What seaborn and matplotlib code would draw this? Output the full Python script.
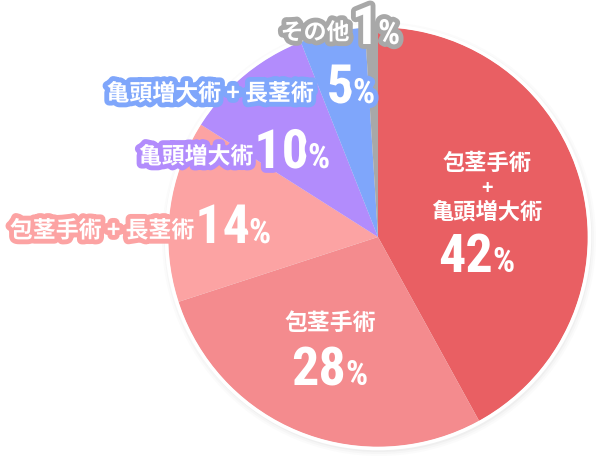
import matplotlib
matplotlib.use('Agg')
import matplotlib.pyplot as plt
import matplotlib.patheffects as pe
from matplotlib.patches import Circle
import seaborn as sns

# data
labels = ['包茎手術\n+\n亀頭増大術', '包茎手術', '包茎手術 + 長茎術', '亀頭増大術', '亀頭増大術 + 長茎術', 'その他']
shares = [42, 28, 14, 10, 5, 1]
colors = ['#e95f63', '#f48b8e', '#fca3a3', '#b28cfc', '#7fa6fb', '#a8a8a8']

sns.set_theme(style='white')
jp = ['Noto Sans CJK JP', 'DejaVu Sans']
num = ['Roboto Condensed', 'Liberation Sans Narrow', 'DejaVu Sans']

H = 469
fig = plt.figure(figsize=(6.12, 4.69), dpi=100)
ax = fig.add_axes([0, 0, 1, 1])

cx, cy, r = 378, H - 237, 210

# soft shadow behind the pie
for k, a in [(7, 0.03), (5, 0.04), (3, 0.06)]:
    ax.add_patch(Circle((cx + 1, cy - 2), r + k, color='#888888', alpha=a, lw=0, zorder=0))

ax.pie(shares, colors=colors, startangle=90, counterclock=False,
       center=(cx, cy), radius=r, wedgeprops={'linewidth': 0}, frame=True)
ax.set_xlim(0, 612)
ax.set_ylim(0, H)
ax.set_aspect('equal')
ax.axis('off')
ax.add_patch(Circle((cx, cy), r + 1.5, fill=False, ec='white', lw=2.6, zorder=3))

# label positions in pixel coords: (text x, text y, number right x, baseline y, outside?)
pos = [
    (487, 163, 493, 272, False),
    (330, 323, 346, 385, False),
    (102, 231, 250, 243, True),
    (196, 157, 309, 168, True),
    (210, 94, 354, 103, True),
    (315, 33, 379, 44, True),
]

for lab, val, col, (tx, ty, nx, ny, out) in zip(labels, shares, colors, pos):
    fx = [pe.withStroke(linewidth=7, foreground=col)] if out else None
    if '\n' in lab:
        parts = lab.split('\n')
        ys = [163, 188, 212]
        for p, yy in zip(parts, ys):
            ax.text(tx, H - yy, p, ha='center', va='center', color='white',
                    fontsize=16 if p != '+' else 14, fontweight='bold', family=jp, zorder=5)
    else:
        ax.text(tx, H - ty, lab, ha='center', va='center', color='white',
                fontsize=16.5, fontweight='bold', family=jp, zorder=5, path_effects=fx)
    ax.text(nx, H - ny, str(val), ha='right', va='baseline', color='white',
            fontsize=39, fontweight='bold', fontstretch='condensed', family=num,
            zorder=5, path_effects=fx)
    ax.text(nx - 1, H - ny, '%', ha='left', va='baseline', color='white',
            fontsize=25, fontweight='bold', fontstretch='condensed', family=num,
            zorder=5, path_effects=fx)

fig.savefig('out.png', dpi=100)
